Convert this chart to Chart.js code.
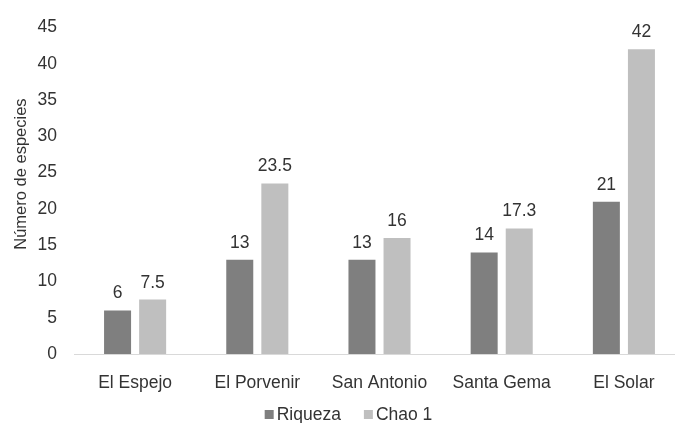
<!DOCTYPE html>
<html>
<head>
<meta charset="utf-8">
<script src="https://cdn.jsdelivr.net/npm/chart.js@4/dist/chart.umd.min.js"></script>
<style>
html,body{margin:0;padding:0;background:#fff;overflow:hidden;}
#wrap{width:675px;height:423px;overflow:hidden;position:relative;}
canvas{display:block;}
</style>
</head>
<body>
<div id="wrap"><canvas id="c" width="700" height="423"></canvas></div>
<script>
const categories = ["El Espejo", "El Porvenir", "San Antonio", "Santa Gema", "El Solar"];
const riqueza = [6, 13, 13, 14, 21];
const chao1 = [7.5, 23.5, 16, 17.3, 42];
const yTitle = "Número de especies";
const seriesNames = ["Riqueza", "Chao 1"];

const FONT = "'Liberation Sans', Arial, sans-serif";
const TXT = '#333333';

const valueLabels = {
  id: 'valueLabels',
  afterDatasetsDraw(chart) {
    const ctx = chart.ctx;
    ctx.save();
    ctx.font = "17.5px " + FONT;
    ctx.fillStyle = TXT;
    ctx.textAlign = 'center';
    ctx.textBaseline = 'alphabetic';
    chart.data.datasets.forEach((ds, i) => {
      const meta = chart.getDatasetMeta(i);
      meta.data.forEach((el, j) => {
        ctx.fillText(String(ds.data[j]), el.x, el.y - 12);
      });
    });
    ctx.restore();
  }
};

const yAxisTitle = {
  id: 'yAxisTitle',
  afterDraw(chart) {
    const ctx = chart.ctx;
    ctx.save();
    ctx.font = "16.5px " + FONT;
    ctx.fillStyle = TXT;
    ctx.textAlign = 'center';
    ctx.textBaseline = 'middle';
    const cy = chart.scales.y.getPixelForValue(24.8);
    ctx.translate(21, cy);
    ctx.rotate(-Math.PI / 2);
    ctx.fillText(yTitle, 0, 0);
    ctx.restore();
  }
};

const bottomLegend = {
  id: 'bottomLegend',
  afterDraw(chart) {
    const ctx = chart.ctx;
    ctx.save();
    ctx.font = "17.5px " + FONT;
    ctx.textBaseline = 'alphabetic';
    ctx.textAlign = 'left';
    const box = 9, gapText = 3, gapItem = 23;
    const items = chart.data.datasets.map(ds => ({ text: ds.label, color: ds.backgroundColor, w: ctx.measureText(ds.label).width }));
    let total = 0;
    items.forEach((it, i) => { total += box + gapText + it.w + (i < items.length - 1 ? gapItem : 0); });
    let x = 348.5 - total / 2;
    const baseline = 420;
    items.forEach(it => {
      ctx.fillStyle = it.color;
      ctx.fillRect(x, baseline - 10, box, box);
      x += box + gapText;
      ctx.fillStyle = TXT;
      ctx.fillText(it.text, x, baseline);
      x += it.w + gapItem;
    });
    ctx.restore();
  }
};

new Chart(document.getElementById('c'), {
  type: 'bar',
  data: {
    labels: categories,
    datasets: [
      { label: seriesNames[0], data: riqueza, backgroundColor: '#7f7f7f', barPercentage: 0.77, categoryPercentage: 0.574 },
      { label: seriesNames[1], data: chao1, backgroundColor: '#bfbfbf', barPercentage: 0.77, categoryPercentage: 0.574 }
    ]
  },
  options: {
    responsive: false,
    devicePixelRatio: 1,
    animation: false,
    layout: { padding: { top: 22, right: 15, left: 0, bottom: 0 } },
    plugins: {
      tooltip: { enabled: false },
      legend: { display: false }
    },
    scales: {
      x: {
        grid: { display: false, drawTicks: false },
        border: { display: true, color: '#d9d9d9', width: 1 },
        ticks: { color: TXT, font: { family: FONT, size: 17.5 }, padding: 19 },
        afterFit(scale) { scale.height = 69; }
      },
      y: {
        min: 0, max: 45,
        grid: { display: false, drawTicks: false },
        border: { display: false },
        ticks: { stepSize: 5, color: TXT, font: { family: FONT, size: 17.5 }, padding: 17 },
        afterFit(scale) { scale.width = 74; }
      }
    }
  },
  plugins: [valueLabels, yAxisTitle, bottomLegend]
});
</script>
</body>
</html>
